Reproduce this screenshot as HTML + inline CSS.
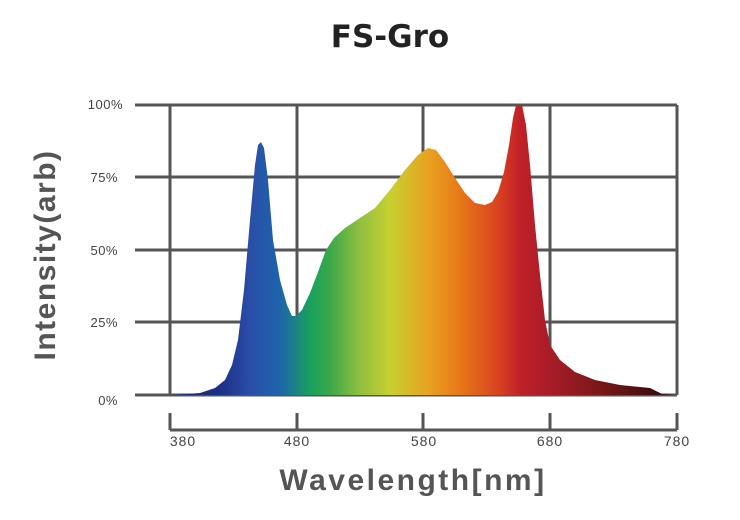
<!DOCTYPE html>
<html><head><style>body{margin:0;background:#fff}svg{display:block}</style></head><body>
<svg width="740" height="520" xmlns="http://www.w3.org/2000/svg" font-family="Liberation Sans, sans-serif">
<defs><linearGradient id="g" gradientUnits="userSpaceOnUse" x1="170" y1="0" x2="677" y2="0">
<stop offset="0" stop-color="#1a2a7a"/>
<stop offset="0.098" stop-color="#1c2f86"/>
<stop offset="0.158" stop-color="#2a4ea8"/>
<stop offset="0.217" stop-color="#1d64aa"/>
<stop offset="0.276" stop-color="#18a060"/>
<stop offset="0.315" stop-color="#3aa848"/>
<stop offset="0.375" stop-color="#90c040"/>
<stop offset="0.434" stop-color="#c8d030"/>
<stop offset="0.513" stop-color="#e8a020"/>
<stop offset="0.572" stop-color="#e87818"/>
<stop offset="0.651" stop-color="#d84020"/>
<stop offset="0.690" stop-color="#c02028"/>
<stop offset="0.750" stop-color="#a81c28"/>
<stop offset="0.848" stop-color="#7a1818"/>
<stop offset="0.966" stop-color="#3a0a10"/>
</linearGradient></defs>
<text x="390" y="47" font-family="DejaVu Sans, sans-serif" font-size="31" font-weight="bold" text-anchor="middle" fill="#222">FS-Gro</text>
<g stroke="#555" stroke-width="3" fill="none">
<line x1="135" y1="105" x2="677" y2="105"/>
<line x1="135" y1="177" x2="677" y2="177"/>
<line x1="135" y1="250" x2="677" y2="250"/>
<line x1="135" y1="322" x2="677" y2="322"/>
<line x1="135" y1="395" x2="677" y2="395"/>
<line x1="170" y1="105" x2="170" y2="395"/>
<line x1="297" y1="105" x2="297" y2="395"/>
<line x1="423" y1="105" x2="423" y2="395"/>
<line x1="550" y1="105" x2="550" y2="395"/>
<line x1="677" y1="105" x2="677" y2="395"/>
<line x1="170" y1="430" x2="677" y2="430"/>
<line x1="170" y1="413" x2="170" y2="430"/>
<line x1="297" y1="413" x2="297" y2="430"/>
<line x1="423" y1="413" x2="423" y2="430"/>
<line x1="550" y1="413" x2="550" y2="430"/>
<line x1="677" y1="413" x2="677" y2="430"/>
</g>
<path fill="url(#g)" d="M172,395 L200,393 215,388 225,380 232,365 238,340 244,290 250,220 255,165 258,145 261,142 264,148 268,180 273,240 280,280 287,305 292,316 296,316 302,310 310,293 318,272 326,250 334,238 345,228 360,218 375,208 390,190 405,170 418,155 428,148 436,150 445,162 455,178 465,193 475,203 485,205 492,202 498,192 504,172 509,145 513,118 516,105 522,105 526,125 530,165 535,225 540,275 545,320 550,345 560,360 575,372 595,380 620,385 650,388 662,394 675,395 Z"/>
<g font-size="13" fill="#444" text-anchor="end" letter-spacing="0.5">
<text x="123" y="109">100%</text><text x="118" y="182">75%</text><text x="118" y="255">50%</text><text x="118" y="327">25%</text><text x="118" y="405">0%</text>
</g>
<g font-size="14" fill="#444" text-anchor="middle" letter-spacing="1">
<text x="183" y="446">380</text><text x="297" y="446">480</text><text x="424" y="446">580</text><text x="550" y="446">680</text><text x="677" y="446">780</text>
</g>
<text x="413" y="490" font-size="30" font-weight="bold" fill="#555" text-anchor="middle" letter-spacing="2.5">Wavelength[nm]</text>
<text transform="translate(55,255) rotate(-90)" font-size="30" font-weight="bold" fill="#555" text-anchor="middle" letter-spacing="1.5">Intensity(arb)</text>
</svg>
</body></html>
